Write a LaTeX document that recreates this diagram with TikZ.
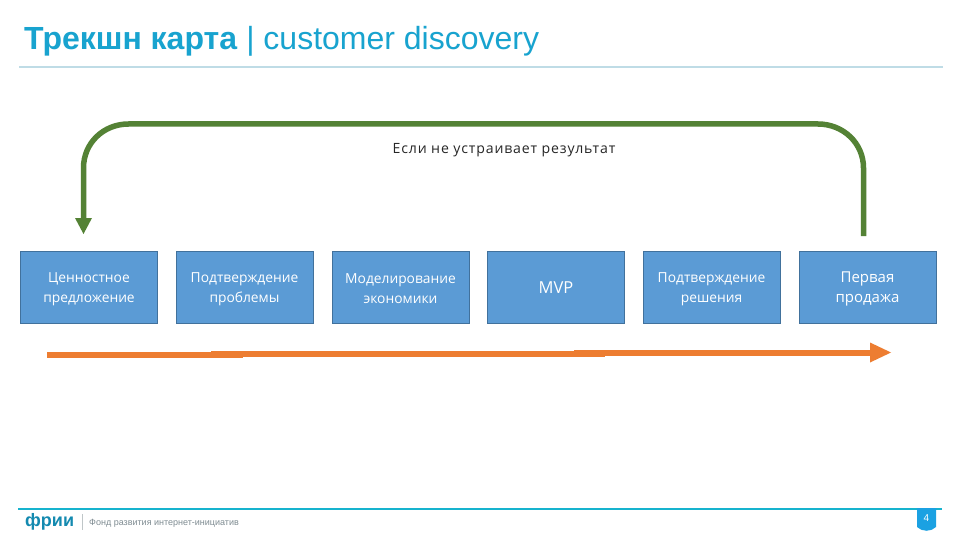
\documentclass[tikz,border=0pt]{standalone}
\usepackage{fontspec}
\setmainfont{Liberation Sans}
\newfontfamily\boxfont{Open Sans}
\newfontfamily\labelfont[LetterSpace=6]{Open Sans}
\usetikzlibrary{arrows.meta}
\definecolor{titleblue}{HTML}{18A3CF}
\definecolor{ruleblue}{HTML}{BFDCE6}
\definecolor{tealline}{HTML}{17B3CE}
\definecolor{boxfill}{HTML}{5B9BD5}
\definecolor{boxline}{HTML}{41719C}
\definecolor{loopgreen}{HTML}{548235}
\definecolor{barorange}{HTML}{ED7D31}
\definecolor{badge}{HTML}{1BA1E2}
\definecolor{footgray}{HTML}{7F8C92}
\newcommand{\linestrut}{\rule{0pt}{13pt}\rule[-2pt]{0pt}{2pt}}
\tikzset{
  stagebox/.style={draw=boxline,line width=0.8pt,fill=boxfill,text=white,minimum width=137pt,minimum height=72pt,inner sep=0pt,align=center,font=\boxfont\fontsize{13.8}{20}\selectfont},
  stagebig/.style={stagebox,font=\boxfont\fontsize{15}{20}\selectfont},
  stagemvp/.style={stagebox,font=\boxfont\fontsize{16.5}{20}\selectfont},
  loopline/.style={draw=loopgreen,line width=5.5pt},
  barline/.style={draw=barorange,line width=6pt},
}
\begin{document}
\begin{tikzpicture}[x=1pt,y=-1pt]
\useasboundingbox (0,0) rectangle (960,540);
\fill[white] (0,0) rectangle (960,540);
\node[anchor=base west,inner sep=0pt,text=titleblue,font=\fontsize{32}{36}\selectfont] (title) at (24,50) {\textbf{Трекшн карта} | customer discovery};
\coordinate (ruleL) at (19,67);
\coordinate (ruleR) at (943,67);
\draw[ruleblue,line width=1.2pt] (ruleL) -- (ruleR);

\node[stagebox] (b1) at (89,287.5) {\linestrut Ценностное\\\linestrut предложение};
\node[stagebox] (b2) at (244.5,287.5) {\linestrut Подтверждение\\\linestrut проблемы};
\node[stagebox] (b3) at (400.5,287.5) {\linestrut Моделирование\\\linestrut экономики};
\node[stagemvp] (b4) at (556,287.5) {\linestrut MVP};
\node[stagebox] (b5) at (711.5,287.5) {\linestrut Подтверждение\\\linestrut решения};
\node[stagebig] (b6) at (867.5,287.5) {\linestrut Первая\\\linestrut продажа};

\node[inner sep=0pt,font=\labelfont\fontsize{14.1}{16}\selectfont,text=black!85] (lbl) at (504,150.5) {Если не устраивает результат};

\coordinate (loopS) at (863.5,236);
\coordinate (loopE) at (83.5,234);
\draw[loopline] (loopS) -- (863.5,168) .. controls (863.5,143) and (843,124) .. (818,124) -- (128.5,124) .. controls (103.5,124) and (83.5,143) .. (83.5,168) -- (83.5,219);
\fill[loopgreen] (75,218) -- (92,218) -- (loopE) -- cycle;

\coordinate (barA) at (47,355);
\coordinate (barB) at (243,355);
\coordinate (barC) at (211,354);
\coordinate (barD) at (605,354);
\coordinate (barE) at (574,352.5);
\coordinate (barF) at (872,352.5);
\coordinate (barTip) at (891,352.5);
\draw[barline] (barA) -- (barB);
\draw[barline] (barC) -- (barD);
\draw[barline] (barE) -- (barF);
\fill[barorange] (870,342.5) -- (barTip) -- (870,362.5) -- cycle;

\coordinate (footL) at (18,508.5);
\coordinate (footR) at (942,508.5);
\draw[tealline,line width=2pt] (footL) -- (footR);
\fill[badge] (917,508) -- (936,508) -- (936,527) .. controls (931,532) and (922,532) .. (917,527) -- cycle;
\node[inner sep=0pt,text=white,font=\fontsize{10}{12}\selectfont] (pg) at (926.5,518.5) {4};

\node[anchor=base west,inner sep=0pt,text=titleblue!85!black,font=\bfseries\fontsize{18}{20}\selectfont] (logo) at (25,526) {фрии};
\coordinate (sepT) at (82,514);
\coordinate (sepB) at (82,530);
\draw[footgray!50,line width=0.6pt] (sepT) -- (sepB);
\node[anchor=base west,inner sep=0pt,text=footgray,font=\fontsize{9}{10}\selectfont] (fund) at (89,525) {Фонд развития интернет-инициатив};
\end{tikzpicture}
\end{document}
